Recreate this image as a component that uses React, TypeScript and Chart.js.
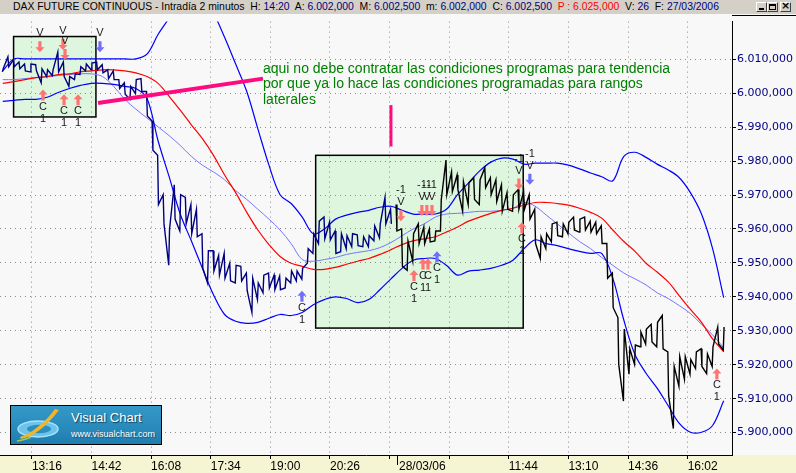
import React, { useEffect, useRef } from 'react';
import { Chart, registerables } from 'chart.js';

Chart.register(...registerables);

// ---------------- data ----------------
const TITLE_SYMBOL = 'DAX FUTURE CONTINUOUS - Intradía 2 minutos';
const TITLE_FIELDS = [
  { label: 'H:', value: '14:20', red: false },
  { label: 'A:', value: '6.002,000', red: false },
  { label: 'M:', value: '6.002,500', red: false },
  { label: 'm:', value: '6.002,000', red: false },
  { label: 'C:', value: '6.002,500', red: false },
  { label: 'P :', value: '6.025,000', red: true },
  { label: 'V:', value: '26', red: false },
  { label: 'F:', value: '27/03/2006', red: false },
];

// x axis: index of 2-minute bars
const X_MAX_BAR = 528;
const FIRST_TICK_BAR = 23; // 13:16
const BARS_PER_TICK = 43; // 86 minutes
const X_TICK_LABELS = ['13:16', '14:42', '16:08', '17:34', '19:00', '20:26', '', '', '11:44', '13:10', '14:36', '16:02'];
const DAY_BREAK_BAR = 286;
const DAY_BREAK_LABEL = '28/03/06';

// y axis
const Y_MIN = 5893.4;
const Y_MAX = 6021.1;
const Y_TICKS = [5900, 5910, 5920, 5930, 5940, 5950, 5960, 5970, 5980, 5990, 6000, 6010];

// price samples (one every 4 bars)
const PRICE_STEP = 4;
const PRICE_OFFSET = 2;
const PRICE_HIGH = [
  6007.2, 6010.7, 6009.8, 6009.2, 6008.6, 6008.6, 6008.4, 6007.2, 6006.9, 6006.9,
  6012.1, 6009.2, 6004.9, 6005.7, 6007.8, 6008.6, 6008.9, 6009.2, 6008.4, 6006.9,
  6006.6, 6004.0, 6003.1, 6002.0, 6004.0, 6004.3, 6000.5, 5991.8, 5981.7, 5970.1,
  5960.0, 5973.0, 5970.1, 5969.3, 5967.2, 5965.8, 5958.6, 5953.6, 5953.6, 5952.2,
  5952.8, 5949.9, 5949.3, 5949.0, 5947.0, 5945.5, 5944.1, 5946.4, 5947.0, 5946.4,
  5946.1, 5945.5, 5947.6, 5947.6, 5948.4, 5954.2, 5958.6, 5962.3, 5963.5, 5962.0,
  5959.4, 5958.6, 5958.0, 5958.6, 5958.3, 5957.7, 5958.0, 5960.9, 5961.5, 5969.3,
  5965.8, 5967.2, 5960.0, 5956.5, 5958.6, 5961.5, 5960.6, 5960.0, 5959.4, 5968.7,
  5980.3, 5976.8, 5975.9, 5973.9, 5973.6, 5975.1, 5974.5, 5978.0, 5975.1, 5974.5,
  5973.0, 5970.7, 5970.1, 5971.6, 5971.0, 5970.1, 5965.8, 5957.7, 5958.6, 5961.5,
  5962.0, 5961.5, 5962.0, 5963.5, 5962.9, 5963.5, 5962.3, 5962.0, 5960.9, 5955.7,
  5947.0, 5933.9, 5930.5, 5924.7, 5925.8, 5929.6, 5930.5, 5931.9, 5932.5, 5934.5,
  5923.8, 5919.5, 5922.4, 5922.4, 5921.5, 5923.8, 5924.7, 5923.2, 5925.3, 5931.1,
  5931.1,
];
const PRICE_LOW = [
  6006.3, 6007.8, 6007.8, 6007.2, 6006.6, 6006.3, 6006.6, 6003.1, 6004.9, 6005.2,
  6006.3, 6004.9, 6002.0, 6004.0, 6005.5, 6006.6, 6006.9, 6006.9, 6006.0, 6004.3,
  6004.0, 6001.4, 5999.7, 5998.2, 5999.9, 6000.5, 5993.3, 5983.2, 5967.2, 5961.5,
  5949.3, 5962.9, 5959.4, 5961.5, 5958.6, 5957.7, 5948.4, 5944.1, 5947.6, 5946.4,
  5945.5, 5944.7, 5944.1, 5944.7, 5941.8, 5935.4, 5939.2, 5941.2, 5942.6, 5942.1,
  5942.1, 5942.6, 5944.1, 5944.7, 5945.2, 5949.9, 5952.8, 5955.7, 5957.1, 5956.8,
  5952.8, 5953.3, 5954.2, 5954.8, 5955.1, 5954.8, 5954.8, 5956.5, 5957.4, 5961.5,
  5961.5, 5959.4, 5949.0, 5947.8, 5950.5, 5955.7, 5955.7, 5956.2, 5956.5, 5959.4,
  5970.1, 5971.0, 5971.6, 5965.2, 5967.2, 5968.7, 5967.2, 5972.2, 5970.1, 5968.1,
  5965.2, 5965.8, 5965.2, 5965.8, 5965.8, 5962.9, 5955.7, 5951.3, 5954.2, 5956.2,
  5958.0, 5957.7, 5958.6, 5959.7, 5959.1, 5959.7, 5959.1, 5958.6, 5955.7, 5945.5,
  5936.8, 5920.1, 5909.3, 5917.2, 5920.1, 5925.3, 5926.1, 5926.7, 5925.3, 5924.7,
  5910.8, 5901.2, 5913.7, 5915.7, 5917.2, 5918.9, 5919.5, 5917.4, 5919.5, 5926.1,
  5924.4,
];

// indicator samples (one every 8 bars)
const BAND_STEP = 8;
const BAND_OFFSET = 2;
const BB_UPPER = [
  6006.6, 6010.1, 6010.1, 6010.1, 6010.1, 6010.1, 6010.1, 6010.1, 6010.1, 6010.1,
  6010.1, 6010.1, 6010.1, 6011.5, 6017.3, 6022.2, 6028.0, 6030.9, 6029.5, 6023.7,
  6016.5, 6008.6, 6000.5, 5989.5, 5978.8, 5970.1, 5967.5, 5963.5, 5958.6, 5960.0,
  5962.9, 5964.1, 5964.9, 5965.5, 5966.4, 5966.7, 5965.5, 5964.4, 5964.4, 5964.4,
  5965.8, 5970.1, 5973.6, 5977.1, 5979.7, 5980.9, 5980.6, 5979.1, 5979.4, 5979.4,
  5979.4, 5978.8, 5977.7, 5976.5, 5975.4, 5974.2, 5981.4, 5982.6, 5981.1, 5979.1,
  5977.4, 5975.1, 5970.7, 5964.4, 5954.2, 5939.8,
];
const BB_LOWER = [
  5997.6, 5997.9, 5998.2, 5998.2, 5998.8, 6000.2, 6001.4, 6002.3, 6002.9, 6002.9,
  6002.6, 6002.0, 6001.4, 5998.5, 5986.0, 5975.4, 5964.4, 5956.5, 5948.4, 5940.6,
  5934.8, 5932.8, 5932.2, 5932.5, 5933.7, 5934.8, 5934.5, 5935.4, 5937.7, 5939.2,
  5940.0, 5939.5, 5938.3, 5939.2, 5942.1, 5945.3, 5948.4, 5950.8, 5951.3, 5951.3,
  5949.3, 5946.4, 5947.6, 5947.9, 5948.4, 5949.3, 5950.8, 5954.2, 5956.8, 5955.7,
  5955.1, 5954.2, 5953.4, 5952.8, 5952.8, 5945.5, 5933.1, 5923.0, 5917.5, 5913.1,
  5907.9, 5902.7, 5900.1, 5900.1, 5902.1, 5909.4,
];
const MA_RED = [
  6002.9, 6003.4, 6004.0, 6004.6, 6004.9, 6005.5, 6005.7, 6006.3, 6006.6, 6006.9,
  6006.9, 6006.6, 6006.0, 6004.9, 6002.9, 5999.1, 5995.0, 5990.7, 5986.6, 5981.7,
  5975.9, 5970.7, 5964.9, 5959.7, 5955.4, 5951.9, 5949.9, 5949.0, 5948.1, 5948.1,
  5948.7, 5949.6, 5950.5, 5951.3, 5952.5, 5953.9, 5955.4, 5956.5, 5957.1, 5957.7,
  5959.1, 5960.6, 5962.3, 5963.5, 5964.6, 5965.5, 5966.1, 5967.0, 5967.8, 5967.8,
  5967.5, 5967.0, 5966.1, 5964.9, 5963.2, 5959.7, 5956.3, 5953.4, 5949.9, 5947.3,
  5944.4, 5940.3, 5936.3, 5932.5, 5927.6, 5923.8,
];
const MA_LIGHT = [
  6004.0, 6004.0, 6004.3, 6004.6, 6004.9, 6005.2, 6005.5, 6005.7, 6005.7, 6004.9,
  6002.0, 5998.2, 5995.3, 5992.7, 5990.1, 5987.5, 5984.6, 5981.4, 5978.8, 5976.8,
  5974.5, 5971.3, 5968.7, 5965.8, 5962.9, 5959.7, 5955.7, 5951.0, 5950.5, 5951.0,
  5951.6, 5952.5, 5953.1, 5953.6, 5954.5, 5956.0, 5958.0, 5960.0, 5961.5, 5963.5,
  5964.4, 5964.6, 5964.9, 5965.2, 5965.2, 5965.5, 5966.1, 5967.8, 5966.7, 5964.1,
  5961.5, 5958.9, 5956.3, 5954.2, 5951.6, 5949.3, 5947.0, 5945.3, 5943.5, 5941.2,
  5939.5, 5937.4, 5935.1, 5931.9, 5928.8, 5925.0,
];

// trading signals: bar index, arrow tip price
const SIGNALS = [
  { bar: 28.8, value: 6012.1, side: 'sell', color: 'red', tag: '' },
  { bar: 45.4, value: 6012.7, side: 'sell', color: 'red', tag: '' },
  { bar: 46.9, value: 6009.8, side: 'sell', color: 'red', tag: '' },
  { bar: 72.1, value: 6012.1, side: 'sell', color: 'blue', tag: '' },
  { bar: 289.2, value: 5962.3, side: 'sell', color: 'red', tag: '-1' },
  { bar: 304.3, value: 5963.8, side: 'sell', color: 'red', tag: '-1' },
  { bar: 307.9, value: 5963.8, side: 'sell', color: 'red', tag: '-1' },
  { bar: 311.6, value: 5963.8, side: 'sell', color: 'red', tag: '-1' },
  { bar: 374.3, value: 5971.6, side: 'sell', color: 'red', tag: '-1' },
  { bar: 382.2, value: 5973.0, side: 'sell', color: 'blue', tag: '-1' },
  { bar: 31.0, value: 6001.1, side: 'buy', color: 'red', tag: '1' },
  { bar: 46.2, value: 5999.7, side: 'buy', color: 'red', tag: '1' },
  { bar: 56.3, value: 5999.7, side: 'buy', color: 'red', tag: '1' },
  { bar: 217.8, value: 5941.8, side: 'buy', color: 'blue', tag: '1' },
  { bar: 298.6, value: 5947.9, side: 'buy', color: 'red', tag: '1' },
  { bar: 305.1, value: 5951.3, side: 'buy', color: 'red', tag: '1' },
  { bar: 308.7, value: 5951.3, side: 'buy', color: 'red', tag: '1' },
  { bar: 315.2, value: 5953.4, side: 'buy', color: 'blue', tag: '1' },
  { bar: 376.5, value: 5962.0, side: 'buy', color: 'red', tag: '1' },
  { bar: 517.1, value: 5918.9, side: 'buy', color: 'red', tag: '1' },
];

// range boxes (bar range, price range)
const BOXES = [
  { fromBar: 9.8, toBar: 69.2, top: 6016.7, bottom: 5993.0 },
  { fromBar: 227.7, toBar: 377.4, top: 5981.7, bottom: 5930.8 },
];

// hand-drawn marker strokes (bar, price)
const MARKERS = [
  { x1: 70.7, y1: 5997.1, x2: 189.7, y2: 6004.3, width: 4 },
  { x1: 282.0, y1: 5996.5, x2: 282.0, y2: 5984.3, width: 3 },
];

const NOTE_LINES = [
  'aqui no debe contratar las condiciones programas para tendencia',
  'por que ya lo hace las condiciones programadas para rangos',
  'laterales',
];
const NOTE_ANCHOR = { bar: 189.7, value: 6006.0 };

// ---------------- helpers ----------------
function formatPrice(v: number) {
  const n = Math.round(v);
  const th = Math.floor(n / 1000);
  const rest = String(n % 1000).padStart(3, '0');
  return `${th}.${rest},000`;
}

function pricePoints(from: number, to: number) {
  const pts: { x: number; y: number }[] = [];
  for (let i = from; i < to; i++) {
    const bar = i * PRICE_STEP + PRICE_OFFSET;
    const mid = (PRICE_HIGH[i] + PRICE_LOW[i]) / 2;
    const nextMid = i + 1 < PRICE_HIGH.length ? (PRICE_HIGH[i + 1] + PRICE_LOW[i + 1]) / 2 : mid;
    const falling = nextMid < mid;
    pts.push({ x: bar - 0.3, y: falling ? PRICE_HIGH[i] : PRICE_LOW[i] });
    pts.push({ x: bar + 0.3, y: falling ? PRICE_LOW[i] : PRICE_HIGH[i] });
  }
  return pts;
}

function bandPoints(arr: number[]) {
  return arr.map((v, j) => ({ x: j * BAND_STEP + BAND_OFFSET, y: v }));
}

const ARROW_COLORS: Record<string, string> = { red: '#ff7373', blue: '#6f6fff' };

function drawArrow(ctx: CanvasRenderingContext2D, cx: number, tipY: number, up: boolean, color: string) {
  const d = up ? 1 : -1;
  const headH = 5;
  const halfHead = 4.5;
  const halfShaft = 1.6;
  const len = 11;
  ctx.beginPath();
  ctx.moveTo(cx, tipY);
  ctx.lineTo(cx + halfHead, tipY + d * headH);
  ctx.lineTo(cx + halfShaft, tipY + d * headH);
  ctx.lineTo(cx + halfShaft, tipY + d * len);
  ctx.lineTo(cx - halfShaft, tipY + d * len);
  ctx.lineTo(cx - halfShaft, tipY + d * headH);
  ctx.lineTo(cx - halfHead, tipY + d * headH);
  ctx.closePath();
  ctx.fillStyle = color;
  ctx.fill();
}

const overlayPlugin = {
  id: 'vcOverlay',
  beforeDraw(chart: any) {
    const { ctx, chartArea, width, height } = chart;
    const xs = chart.scales.x;
    const ys = chart.scales.y;
    ctx.save();
    ctx.fillStyle = '#f8f8f8';
    ctx.fillRect(0, 0, width, height);
    ctx.fillStyle = '#f5f5d3';
    ctx.fillRect(0, chartArea.bottom, width, height - chartArea.bottom);
    ctx.fillStyle = '#def6de';
    for (const b of BOXES) {
      const x0 = xs.getPixelForValue(b.fromBar);
      const x1 = xs.getPixelForValue(b.toBar);
      const y0 = ys.getPixelForValue(b.top);
      const y1 = ys.getPixelForValue(b.bottom);
      ctx.fillRect(x0, y0, x1 - x0, y1 - y0);
    }
    ctx.restore();
  },
  beforeDatasetsDraw(chart: any) {
    const { ctx } = chart;
    const xs = chart.scales.x;
    const ys = chart.scales.y;
    ctx.save();
    ctx.strokeStyle = '#000';
    ctx.lineWidth = 1.5;
    for (const b of BOXES) {
      const x0 = xs.getPixelForValue(b.fromBar);
      const x1 = xs.getPixelForValue(b.toBar);
      const y0 = ys.getPixelForValue(b.top);
      const y1 = ys.getPixelForValue(b.bottom);
      ctx.strokeRect(x0, y0, x1 - x0, y1 - y0);
    }
    ctx.restore();
  },
  afterDatasetsDraw(chart: any) {
    const { ctx } = chart;
    const xs = chart.scales.x;
    const ys = chart.scales.y;
    ctx.save();
    ctx.strokeStyle = '#ff0a80';
    ctx.lineCap = 'butt';
    for (const m of MARKERS) {
      ctx.lineWidth = m.width;
      ctx.beginPath();
      ctx.moveTo(xs.getPixelForValue(m.x1), ys.getPixelForValue(m.y1));
      ctx.lineTo(xs.getPixelForValue(m.x2), ys.getPixelForValue(m.y2));
      ctx.stroke();
    }
    ctx.font = '11px "Liberation Sans", Arial, sans-serif';
    ctx.textAlign = 'center';
    ctx.textBaseline = 'middle';
    for (const s of SIGNALS) {
      const cx = xs.getPixelForValue(s.bar);
      const tip = ys.getPixelForValue(s.value);
      const up = s.side === 'buy';
      drawArrow(ctx, cx, tip, up, ARROW_COLORS[s.color]);
      ctx.fillStyle = '#1a1a1a';
      if (up) {
        ctx.fillText('C', cx, tip + 17);
        ctx.fillText(s.tag, cx, tip + 29);
      } else {
        ctx.fillText('V', cx, tip - 19);
        if (s.tag) ctx.fillText(s.tag, cx, tip - 31);
      }
    }
    ctx.font = '14px "Liberation Sans", Arial, sans-serif';
    ctx.textAlign = 'left';
    ctx.textBaseline = 'alphabetic';
    ctx.fillStyle = '#008000';
    const nx = xs.getPixelForValue(NOTE_ANCHOR.bar);
    const ny = ys.getPixelForValue(NOTE_ANCHOR.value);
    NOTE_LINES.forEach((line, k) => ctx.fillText(line, nx, ny + k * 15.5));
    ctx.restore();
  },
  afterDraw(chart: any) {
    const { ctx, chartArea, width } = chart;
    const xs = chart.scales.x;
    ctx.save();
    const dx = Math.round(xs.getPixelForValue(DAY_BREAK_BAR)) + 0.5;
    ctx.strokeStyle = '#000';
    ctx.lineWidth = 1;
    ctx.beginPath();
    ctx.moveTo(dx, chartArea.bottom);
    ctx.lineTo(dx, chartArea.bottom + 10);
    ctx.stroke();
    ctx.font = '12px "Liberation Sans", Arial, sans-serif';
    ctx.fillStyle = '#000';
    ctx.textAlign = 'left';
    ctx.textBaseline = 'middle';
    ctx.fillText(DAY_BREAK_LABEL, dx + 1.5, chartArea.bottom + 4 + 7.2);
    ctx.beginPath();
    ctx.moveTo(chartArea.right, 1.5);
    ctx.lineTo(width, 1.5);
    ctx.stroke();
    ctx.restore();
  },
};

export default function App() {
  const canvasRef = useRef<HTMLCanvasElement | null>(null);

  useEffect(() => {
    const canvas = canvasRef.current;
    if (!canvas) return;
    const dayStart = PRICE_HIGH.findIndex((_, i) => i * PRICE_STEP + PRICE_OFFSET >= DAY_BREAK_BAR);
    const gridCommon = {
      color: '#8a8a8a',
      lineWidth: 1,
      drawTicks: true,
      tickLength: 4,
      tickColor: '#000',
      tickWidth: 1,
    };
    const borderCommon = { display: true, color: '#000', width: 1, dash: [1, 4] };
    const priceStyle = { pointRadius: 0, tension: 0, borderWidth: 1.4, order: 0 };
    const lineStyle = { pointRadius: 0, tension: 0.35 };
    const chart = new Chart(canvas, {
      type: 'line',
      data: {
        datasets: [
          { label: 'precio día 1', data: pricePoints(0, dayStart), borderColor: '#000080', ...priceStyle },
          { label: 'precio día 2', data: pricePoints(dayStart, PRICE_HIGH.length), borderColor: '#000000', ...priceStyle },
          { label: 'banda superior', data: bandPoints(BB_UPPER), borderColor: '#0000ff', borderWidth: 1.2, order: 1, ...lineStyle },
          { label: 'banda inferior', data: bandPoints(BB_LOWER), borderColor: '#0000ff', borderWidth: 1.2, order: 1, ...lineStyle },
          { label: 'media roja', data: bandPoints(MA_RED), borderColor: '#ff0000', borderWidth: 1.2, order: 2, ...lineStyle },
          { label: 'media azul', data: bandPoints(MA_LIGHT), borderColor: '#7676ff', borderWidth: 1, order: 3, ...lineStyle },
        ],
      },
      options: {
        responsive: false,
        animation: false,
        events: [],
        layout: { padding: 0 },
        plugins: {
          legend: { display: false },
          tooltip: { enabled: false },
          title: { display: false },
        },
        scales: {
          x: {
            type: 'linear',
            min: 0,
            max: X_MAX_BAR,
            afterBuildTicks: (s: any) => {
              s.ticks = X_TICK_LABELS.map((_, k) => ({ value: FIRST_TICK_BAR + k * BARS_PER_TICK }));
            },
            afterFit: (s: any) => {
              s.height = 18;
            },
            ticks: {
              autoSkip: false,
              maxRotation: 0,
              minRotation: 0,
              align: 'start',
              padding: 0,
              color: '#000',
              font: { family: '"Liberation Sans", Arial, sans-serif', size: 12 },
              callback: (_v: any, i: number) => X_TICK_LABELS[i],
            },
            grid: gridCommon,
            border: borderCommon,
          },
          y: {
            type: 'linear',
            position: 'right',
            min: Y_MIN,
            max: Y_MAX,
            afterBuildTicks: (s: any) => {
              s.ticks = Y_TICKS.map((v) => ({ value: v }));
            },
            afterFit: (s: any) => {
              s.width = 64;
            },
            ticks: {
              padding: 1,
              color: '#000080',
              font: { family: '"DejaVu Sans", Verdana, sans-serif', size: 11 },
              callback: (v: any) => formatPrice(Number(v)),
            },
            grid: gridCommon,
            border: borderCommon,
          },
        },
      } as any,
      plugins: [overlayPlugin],
    });
    return () => chart.destroy();
  }, []);

  const winBtn = (left: number, kind: string) => (
    <div
      key={kind}
      style={{
        position: 'absolute',
        left,
        top: 2,
        width: 11,
        height: 10,
        boxSizing: 'border-box',
        background: '#d4d0c8',
        borderTop: '1px solid #ffffff',
        borderLeft: '1px solid #ffffff',
        borderRight: '1px solid #404040',
        borderBottom: '1px solid #404040',
      }}
    >
      {kind === 'min' && (
        <div style={{ position: 'absolute', left: 2, top: 5, width: 5, height: 2, background: '#000' }} />
      )}
      {kind === 'max' && (
        <div
          style={{
            position: 'absolute',
            left: 1,
            top: 1,
            width: 7,
            height: 6,
            boxSizing: 'border-box',
            border: '1px solid #000',
            borderTop: '2px solid #000',
          }}
        />
      )}
      {kind === 'close' && (
        <div
          style={{
            position: 'absolute',
            left: 0,
            top: -3,
            width: 9,
            textAlign: 'center',
            fontSize: 11,
            lineHeight: '12px',
            fontWeight: 'bold',
            fontFamily: '"DejaVu Sans", sans-serif',
          }}
        >
          ×
        </div>
      )}
    </div>
  );

  return (
    <div
      style={{
        position: 'absolute',
        left: 0,
        top: 0,
        width: 796,
        height: 473,
        overflow: 'hidden',
        background: '#f8f8f8',
        fontFamily: '"Liberation Sans", Arial, sans-serif',
      }}
    >
      <div
        style={{
          position: 'absolute',
          left: 0,
          top: 0,
          width: 796,
          height: 14,
          background: '#d4d0c8',
        }}
      >
        <div
          style={{
            position: 'absolute',
            left: 13,
            top: 0,
            fontSize: 10.4,
            lineHeight: '14px',
            whiteSpace: 'pre',
            color: '#000',
          }}
        >
          {TITLE_SYMBOL}
          {TITLE_FIELDS.map((f) => (
            <React.Fragment key={f.label}>
              <span style={{ color: f.red ? '#ff0000' : '#000' }}>{'  ' + f.label + ' '}</span>
              <span style={{ color: f.red ? '#ff0000' : '#000080' }}>{f.value}</span>
            </React.Fragment>
          ))}
        </div>
        {winBtn(756, 'min')}
        {winBtn(767, 'max')}
        {winBtn(780, 'close')}
      </div>
      <canvas
        ref={canvasRef}
        width={796}
        height={459}
        style={{ position: 'absolute', left: 0, top: 14, width: 796, height: 459 }}
      />
      <div
        style={{
          position: 'absolute',
          left: 10,
          top: 405,
          width: 152,
          height: 40,
          boxSizing: 'border-box',
          border: '1px solid #000',
          background: 'linear-gradient(180deg, #3499c8 0%, #2a8cbd 50%, #1f7db0 100%)',
          overflow: 'hidden',
        }}
      >
        <svg width="60" height="38" style={{ position: 'absolute', left: 0, top: 0 }}>
          <ellipse cx="27" cy="23" rx="20" ry="8" fill="#6cc3ec" stroke="#a9e3fb" strokeWidth="1.5" />
          <ellipse cx="28" cy="23" rx="12" ry="4.2" fill="#2b8fc0" />
          <path d="M10 33 C 22 31, 36 20, 48 4 L 44 3 C 35 15, 22 27, 9 31 Z" fill="#f3b526" />
          <path d="M6 35 C 12 34, 16 33, 20 31" stroke="#9acd50" strokeWidth="1.5" fill="none" />
        </svg>
        <div
          style={{
            position: 'absolute',
            left: 60,
            top: 5,
            color: '#ffffff',
            fontSize: 13,
            lineHeight: '13px',
            whiteSpace: 'nowrap',
            textShadow: '1px 1px 1px rgba(0,0,0,0.55)',
          }}
        >
          Visual Chart
        </div>
        <div
          style={{
            position: 'absolute',
            left: 60,
            top: 24,
            color: '#ffffff',
            fontSize: 9,
            lineHeight: '9px',
            whiteSpace: 'nowrap',
            textShadow: '1px 1px 1px rgba(0,0,0,0.4)',
          }}
        >
          www.visualchart.com
        </div>
      </div>
    </div>
  );
}
